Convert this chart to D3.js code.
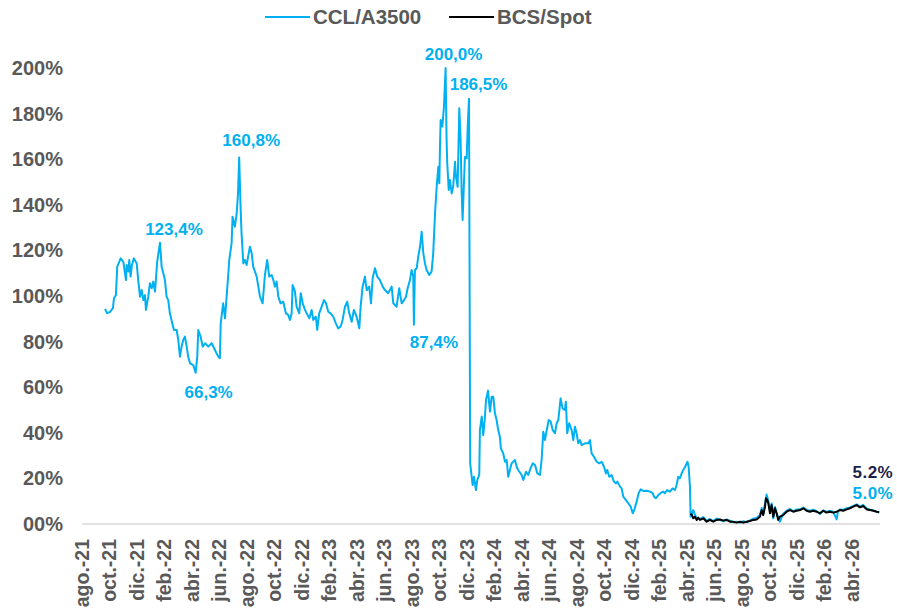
<!DOCTYPE html>
<html><head><meta charset="utf-8">
<script src="https://cdn.jsdelivr.net/npm/d3@7"></script>
<style>
body{margin:0;background:#fff}
svg{display:block}
text{font-family:"Liberation Sans",Arial,sans-serif;font-weight:bold}
</style>
</head><body>
<svg id="chart" width="897" height="608"></svg>
<script>
// ---- DATA (dates as decimal years) ----
const cclDates = [2021.729,2021.741,2021.759,2021.777,2021.783,2021.795,2021.803,2021.824,2021.840,2021.856,2021.860,2021.870,2021.876,2021.884,2021.892,2021.904,2021.921,2021.930,2021.941,2021.951,2021.961,2021.971,2021.977,2021.991,
2022.001,2022.012,2022.021,2022.032,2022.045,2022.062,2022.072,2022.082,2022.092,2022.102,2022.112,2022.122,2022.139,2022.147,2022.163,2022.173,2022.183,2022.193,2022.203,2022.213,2022.224,2022.233,2022.244,2022.264,2022.278,2022.288,2022.294,2022.308,2022.321,2022.335,2022.355,2022.375,2022.395,2022.415,2022.425,2022.430,2022.445,2022.456,2022.466,2022.482,2022.496,2022.502,2022.516,2022.527,2022.535,2022.542,2022.550,2022.556,2022.567,2022.577,2022.587,2022.607,2022.618,2022.627,2022.648,2022.668,2022.684,2022.698,2022.712,2022.724,2022.739,2022.749,2022.759,2022.769,2022.779,2022.793,2022.809,2022.825,2022.839,2022.850,2022.860,2022.866,2022.880,2022.890,2022.906,2022.915,2022.927,2022.941,2022.951,2022.967,2022.981,2022.991,
2023.007,2023.015,2023.027,2023.042,2023.056,2023.068,2023.082,2023.096,2023.112,2023.128,2023.142,2023.157,2023.169,2023.183,2023.197,2023.209,2023.224,2023.237,2023.254,2023.270,2023.278,2023.290,2023.304,2023.315,2023.330,2023.341,2023.351,2023.365,2023.379,2023.395,2023.412,2023.425,2023.445,2023.466,2023.476,2023.496,2023.512,2023.527,2023.541,2023.553,2023.563,2023.577,2023.587,2023.597,2023.601,2023.607,2023.618,2023.627,2023.638,2023.648,2023.658,2023.668,2023.678,2023.694,2023.708,2023.718,2023.729,2023.739,2023.749,2023.755,2023.759,2023.763,2023.773,2023.783,2023.793,2023.799,2023.803,2023.812,2023.819,2023.830,2023.839,2023.850,2023.856,2023.866,2023.876,2023.884,2023.890,2023.896,2023.910,2023.921,2023.927,2023.935,2023.942,2023.957,2023.965,2023.977,2023.985,2023.997,
2024.001,2024.012,2024.021,2024.030,2024.038,2024.050,2024.062,2024.072,2024.082,2024.092,2024.102,2024.112,2024.122,2024.128,2024.142,2024.153,2024.163,2024.173,2024.183,2024.193,2024.213,2024.224,2024.233,2024.254,2024.264,2024.280,2024.294,2024.304,2024.321,2024.335,2024.349,2024.365,2024.375,2024.385,2024.395,2024.406,2024.418,2024.430,2024.442,2024.456,2024.466,2024.476,2024.490,2024.502,2024.516,2024.522,2024.530,2024.542,2024.557,2024.567,2024.577,2024.587,2024.597,2024.607,2024.618,2024.638,2024.658,2024.668,2024.678,2024.692,2024.709,2024.724,2024.739,2024.753,2024.765,2024.773,2024.785,2024.799,2024.813,2024.826,2024.834,2024.850,2024.860,2024.870,2024.886,2024.900,2024.915,2024.927,2024.936,2024.951,2024.963,2024.975,2024.991,
2025.012,2025.032,2025.048,2025.056,2025.068,2025.082,2025.096,2025.112,2025.122,2025.136,2025.153,2025.169,2025.183,2025.193,2025.203,2025.213,2025.224,2025.233,2025.245,2025.254,2025.259,2025.266,2025.274,2025.278,2025.286,2025.294,2025.304,2025.315,2025.335,2025.355,2025.375,2025.395,2025.415,2025.436,2025.456,2025.476,2025.496,2025.516,2025.536,2025.557,2025.577,2025.597,2025.618,2025.638,2025.658,2025.678,2025.698,2025.709,2025.718,2025.729,2025.738,2025.744,2025.749,2025.759,2025.769,2025.779,2025.789,2025.799,2025.809,2025.819,2025.839,2025.860,2025.880,2025.900,2025.921,2025.941,2025.961,2025.981,
2026.001,2026.021,2026.042,2026.062,2026.082,2026.102,2026.122,2026.142,2026.163,2026.171,2026.183,2026.203,2026.224,2026.244,2026.264,2026.284,2026.304,2026.324,2026.345,2026.365,2026.385,2026.406,2026.421];
const cclValues = [94.3,92.5,93.0,94.7,99.0,100.4,112.9,116.5,115.0,107.0,113.6,110.7,115.8,108.5,113.6,116.5,114.3,107.0,99.7,102.6,98.2,100.4,93.9,99.7,
105.6,103.4,106.3,101.9,115.0,123.4,112.9,110.0,107.0,99.7,98.2,92.4,87.3,85.1,85.1,80.7,73.4,77.8,80.7,82.2,77.8,73.4,70.5,69.7,66.3,73.4,85.1,82.2,77.8,79.3,77.8,79.3,76.3,73.4,72.7,88.0,96.8,90.2,99.7,115.8,123.1,134.8,130.4,136.3,145.0,160.8,140.0,128.0,114.3,115.8,113.6,121.6,118.7,112.9,108.5,99.7,96.8,109.2,115.8,108.5,109.2,107.0,104.1,106.3,99.7,96.8,97.5,92.4,91.7,89.5,92.4,104.8,101.9,95.3,92.4,101.2,96.8,93.9,92.4,90.2,93.9,89.5,
90.9,85.1,92.4,95.3,98.2,96.8,93.1,92.4,90.9,88.0,85.8,86.6,89.5,95.3,97.5,92.4,88.7,93.9,90.9,85.8,95.3,104.1,108.5,102.6,104.1,96.8,107.8,112.2,108.5,107.0,104.1,102.6,101.2,104.1,96.8,95.3,103.4,96.8,98.2,99.7,103.4,107.0,111.4,108.5,87.4,111.4,112.2,117.2,121.6,128.2,118.7,114.3,111.4,109.2,110.7,118.7,136.3,147.9,156.7,149.4,165.5,177.2,174.3,183.0,200.0,168.4,158.2,146.5,150.9,145.0,147.9,158.9,152.3,147.9,182.3,168.4,146.5,133.3,161.0,160.4,174.3,186.5,26.6,17.1,20.7,14.9,19.3,21.5,
41.2,47.1,39.0,45.6,54.4,58.5,49.3,55.8,55.8,48.6,45.6,41.2,38.3,33.2,31.0,27.3,28.1,20.7,23.7,26.6,28.1,25.1,23.7,21.5,19.3,22.9,21.5,23.7,26.6,25.9,22.2,21.5,28.1,40.5,36.8,41.2,45.6,44.9,41.2,39.8,44.2,45.6,55.1,50.7,50.0,53.6,39.8,44.2,41.2,36.8,42.7,39.8,35.4,36.8,34.6,35.4,35.4,36.8,31.0,29.5,27.3,26.6,27.3,25.1,22.2,23.7,20.7,21.5,18.6,17.8,18.6,16.4,15.6,12.0,10.5,9.1,7.6,4.7,6.1,9.8,13.5,15.2,14.5,
14.6,14.2,13.5,12.0,11.3,12.7,13.5,14.2,13.5,14.9,14.2,15.6,14.9,17.1,20.7,20.0,22.2,23.7,25.1,26.6,27.3,25.1,16.4,3.2,4.7,6.1,4.0,2.5,2.2,3.0,1.5,2.2,1.3,2.4,1.8,1.2,2.0,1.5,0.8,1.0,0.6,1.2,0.8,1.6,2.3,2.6,4.0,7.0,4.5,9.0,12.9,11.5,10.0,5.5,9.0,2.5,7.5,5.0,2.5,1.0,4.5,5.8,6.6,5.6,6.4,6.5,7.2,6.2,
5.8,6.3,5.6,4.4,6.0,5.3,5.8,5.4,2.0,5.5,6.4,6.3,6.9,7.3,7.9,8.6,7.6,8.4,6.8,6.3,6.0,5.4,5.0];

const bcsDates = [2025.277,2025.286,2025.294,2025.304,2025.315,2025.324,2025.335,2025.355,2025.375,2025.395,2025.415,2025.436,2025.456,2025.476,2025.496,2025.516,2025.536,2025.557,2025.577,2025.597,2025.618,2025.638,2025.658,2025.678,2025.698,2025.709,2025.718,2025.729,2025.735,2025.743,2025.749,2025.759,2025.769,2025.779,2025.789,2025.799,2025.809,2025.819,2025.839,2025.860,2025.880,2025.900,2025.921,2025.941,2025.961,2025.981,
2026.001,2026.021,2026.042,2026.062,2026.082,2026.102,2026.122,2026.142,2026.163,2026.183,2026.203,2026.224,2026.244,2026.264,2026.284,2026.304,2026.324,2026.345,2026.365,2026.385,2026.406,2026.421];
const bcsValues = [4.5,3.9,2.5,3.2,1.8,2.8,1.8,2.5,1.0,1.8,1.0,1.8,2.0,1.5,1.8,1.0,1.0,0.6,1.0,0.6,1.0,1.3,1.8,2.0,3.2,6.1,3.9,7.6,11.3,10.5,9.1,4.7,8.3,3.2,6.9,4.7,1.8,3.2,3.9,5.4,6.1,5.4,5.8,6.1,6.9,5.8,
5.4,5.8,5.4,4.7,5.8,5.0,5.4,5.0,5.4,6.1,5.8,6.4,6.9,7.6,8.3,7.3,7.9,6.4,6.1,5.8,5.4,5.2];

const xTickLabels = ["ago.-21","oct.-21","dic.-21","feb.-22","abr.-22","jun.-22","ago.-22","oct.-22","dic.-22","feb.-23","abr.-23","jun.-23","ago.-23","oct.-23","dic.-23","feb.-24","abr.-24","jun.-24","ago.-24","oct.-24","dic.-24","feb.-25","abr.-25","jun.-25","ago.-25","oct.-25","dic.-25","feb.-26","abr.-26"];
const yTicks = [0,20,40,60,80,100,120,140,160,180,200];
const seriesNames = ["CCL/A3500","BCS/Spot"];
const seriesColors = ["#00B0F0","#000000"];

const annLabels = ["123,4%","66,3%","160,8%","87,4%","200,0%","186,5%"];
const annDates  = [2022.062,2022.278,2022.542,2023.601,2023.793,2023.935];
const annValues = [123.4,66.3,160.8,87.4,200.0,186.5];

// ---- DRAW ----
const svg = d3.select("#chart");
const grey = "#595959";
const x0 = 2021 + 7/12;
const x = d3.scaleLinear().domain([x0, 2026 + 3/12]).range([81, 851]);
const y = d3.scaleLinear().domain([0, 200]).range([524, 68]);
const tickPos = xTickLabels.map((d, i) => x0 + i / 6);

// baseline
svg.append("line").attr("x1", 82).attr("x2", 880)
  .attr("y1", y(0)).attr("y2", y(0))
  .attr("stroke", "#d9d9d9").attr("stroke-width", 1.3);

// y axis labels
const yAxis = d3.axisLeft(y).tickValues(yTicks).tickSize(0).tickPadding(0)
  .tickFormat(v => v === 0 ? "00%" : v + "%");
const gy = svg.append("g").attr("transform", "translate(63,0)").call(yAxis);
gy.select(".domain").remove();
gy.selectAll("text").attr("fill", grey).style("font-size", "20px")
  .style("font-family", '"Liberation Sans",Arial,sans-serif').style("font-weight", "bold");

// x axis labels
const xAxis = d3.axisBottom(x).tickValues(tickPos).tickSize(0)
  .tickFormat((d, i) => xTickLabels[i]);
const gx = svg.append("g").attr("transform", `translate(0,${y(0)})`).call(xAxis);
gx.select(".domain").remove();
gx.selectAll("text")
  .attr("fill", grey).style("font-size", "19.5px")
  .style("font-family", '"Liberation Sans",Arial,sans-serif').style("font-weight", "bold")
  .attr("text-anchor", "end")
  .attr("transform", "rotate(-90)")
  .attr("x", -15).attr("y", 0).attr("dy", "0.36em");

// lines
const line = d3.line().x(d => x(d[0])).y(d => y(d[1]));
const ccl = cclDates.map((d, i) => [d, cclValues[i]]);
const bcs = bcsDates.map((d, i) => [d, bcsValues[i]]);
svg.append("path").datum(ccl).attr("d", line).attr("fill", "none")
  .attr("stroke", seriesColors[0]).attr("stroke-width", 2).attr("stroke-linejoin", "round");
svg.append("path").datum(bcs).attr("d", line).attr("fill", "none")
  .attr("stroke", seriesColors[1]).attr("stroke-width", 2).attr("stroke-linejoin", "round");

// annotations
const annOff = [[14,-8],[13,25],[12,-11],[20,23],[8,-8],[9.5,-8.5]];
annLabels.forEach((t, i) => {
  svg.append("text").text(t)
    .attr("x", x(annDates[i]) + annOff[i][0]).attr("y", y(annValues[i]) + annOff[i][1])
    .attr("text-anchor", "middle").attr("fill", seriesColors[0]).style("font-size", "17px");
});
const lastB = bcs[bcs.length - 1], lastC = ccl[ccl.length - 1];
svg.append("text").text(lastB[1].toFixed(1) + "%")
  .attr("x", x(lastB[0]) + 14).attr("y", y(lastB[1]) - 34)
  .attr("text-anchor", "end").attr("fill", "#1c1f4a").style("font-size", "17px").style("letter-spacing", "0.5px");
svg.append("text").text(lastC[1].toFixed(1) + "%")
  .attr("x", x(lastC[0]) + 14).attr("y", y(lastC[1]) - 14)
  .attr("text-anchor", "end").attr("fill", seriesColors[0]).style("font-size", "17px").style("letter-spacing", "0.5px");

// legend
const legX = [265, 449];
seriesNames.forEach((n, i) => {
  svg.append("line").attr("x1", legX[i]).attr("x2", legX[i] + 45)
    .attr("y1", 17).attr("y2", 17).attr("stroke", seriesColors[i]).attr("stroke-width", 2);
  svg.append("text").text(n).attr("x", legX[i] + 48).attr("y", 17).attr("dy", "0.35em")
    .attr("fill", grey).style("font-size", "20.5px");
});
</script>
</body></html>
